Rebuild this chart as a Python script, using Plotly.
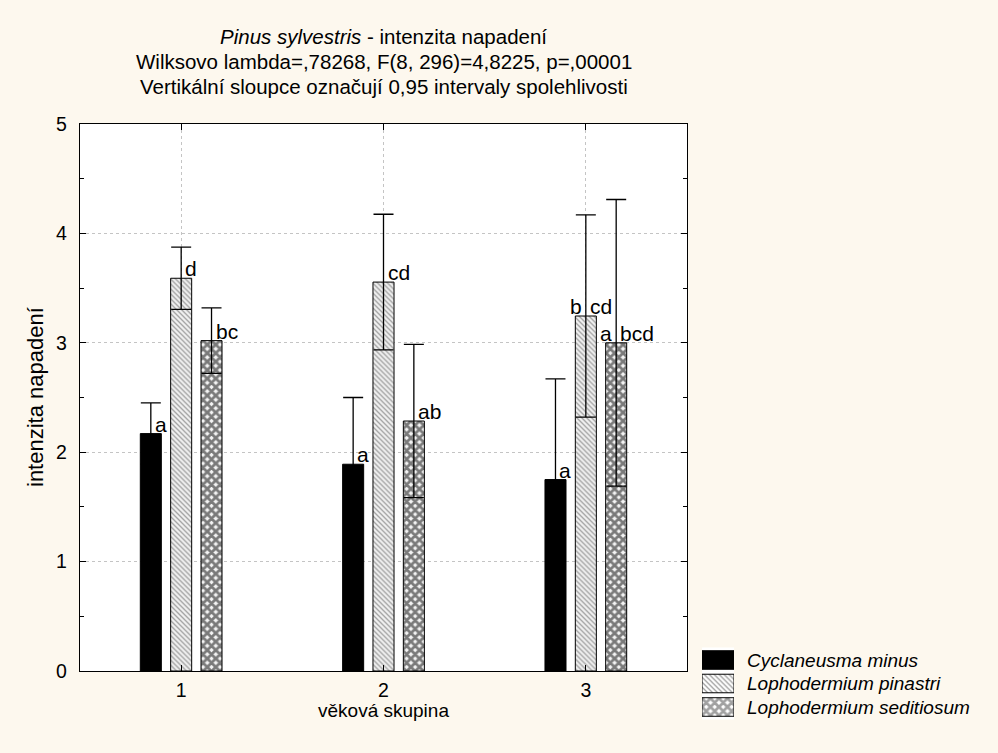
import plotly.graph_objects as go

# ---------------- data ----------------
groups = [1, 2, 3]
tick_labels = ["1", "2", "3"]
series_names = ["Cyclaneusma minus", "Lophodermium pinastri", "Lophodermium seditiosum"]

cyclaneusma_mean = [2.17, 1.89, 1.75]
cyclaneusma_ci = [0.28, 0.61, 0.92]
pinastri_mean = [3.59, 3.555, 3.245]
pinastri_ci = [0.285, 0.62, 0.925]
seditiosum_mean = [3.02, 2.285, 3.00]
seditiosum_ci = [0.30, 0.70, 1.31]

# significance letters: (left of whisker, right of whisker)
cyclaneusma_letters = [("", "a"), ("", "a"), ("", "a")]
pinastri_letters = [("", "d"), ("", "cd"), ("b", "cd")]
seditiosum_letters = [("", "bc"), ("", "ab"), ("a", "bcd")]

y_ticks = [0, 1, 2, 3, 4, 5]

# ---------------- style ----------------
FONT = "Liberation Sans, Arial, sans-serif"
BG = "#fdf8ee"
W, H = 998, 753
PL, PR, PT, PB = 80, 687, 124, 671  # plot area in pixels

BARGAP = 0.55
BARGROUPGAP = 0.307
slot = (1 - BARGAP) / 3

PIN_PAT = dict(shape="\\", fgcolor="#555555", bgcolor="#f0f0f0", size=3.5, solidity=0.38)
SED_PAT = dict(shape="x", fgcolor="black", bgcolor="#f4f4f4", size=6, solidity=0.72)

styles = [
    dict(color="black", pattern=dict(shape="")),
    dict(color="white", pattern=PIN_PAT),
    dict(color="white", pattern=SED_PAT),
]

means = [cyclaneusma_mean, pinastri_mean, seditiosum_mean]
cis = [cyclaneusma_ci, pinastri_ci, seditiosum_ci]
letters = [cyclaneusma_letters, pinastri_letters, seditiosum_letters]

fig = go.Figure()
for i, name in enumerate(series_names):
    fig.add_trace(go.Bar(
        x=groups, y=means[i], name=name, showlegend=False,
        marker=dict(color=styles[i]["color"], pattern=styles[i]["pattern"],
                    line=dict(color="black", width=1)),
        error_y=dict(type="data", array=cis[i], visible=True, color="black",
                     thickness=1.3, width=10),
        xaxis="x", yaxis="y",
    ))

# legend swatches (drawn as bars on a small helper axis)
fig.add_trace(go.Bar(
    x=[1, 1, 1], y=series_names, orientation="h", showlegend=False,
    width=0.79,
    marker=dict(
        color=[s["color"] for s in styles],
        pattern=dict(
            shape=["", PIN_PAT["shape"], SED_PAT["shape"]],
            fgcolor=["black", PIN_PAT["fgcolor"], SED_PAT["fgcolor"]],
            bgcolor=["black", PIN_PAT["bgcolor"], SED_PAT["bgcolor"]],
            size=[4, PIN_PAT["size"], SED_PAT["size"]],
            solidity=[0.5, PIN_PAT["solidity"], SED_PAT["solidity"]],
        ),
        line=dict(color="black", width=1),
    ),
    xaxis="x2", yaxis="y2", hoverinfo="skip",
))

annotations = []
# significance letters
for i in range(3):
    off = (i - 1) * slot
    for j, g in enumerate(groups):
        left, right = letters[i][j]
        if right:
            annotations.append(dict(x=g + off, y=means[i][j], xref="x", yref="y",
                                    text=right, showarrow=False, xanchor="left", yanchor="bottom",
                                    xshift=2, yshift=-4, font=dict(size=21, color="black", family=FONT)))
        if left:
            annotations.append(dict(x=g + off, y=means[i][j], xref="x", yref="y",
                                    text=left, showarrow=False, xanchor="right", yanchor="bottom",
                                    xshift=-2, yshift=-4, font=dict(size=21, color="black", family=FONT)))

# legend texts
for name in series_names:
    annotations.append(dict(x=745 / W, y=name, xref="paper", yref="y2", text=f"<i>{name}</i>",
                            showarrow=False, xanchor="left", yanchor="middle",
                            font=dict(size=19, color="black", family=FONT)))

# titles
title_lines = [
    "<i>Pinus sylvestris</i> - intenzita napadení",
    "Wilksovo lambda=,78268, F(8, 296)=4,8225, p=,00001",
    "Vertikální sloupce označují 0,95 intervaly spolehlivosti",
]
for t, yy in zip(title_lines, [37, 61, 86]):
    annotations.append(dict(x=(PL + PR) / 2 / W, y=1 - yy / H, xref="paper", yref="paper", text=t,
                            showarrow=False, xanchor="center", yanchor="middle",
                            font=dict(size=20.5, color="black", family=FONT)))

# axis titles
annotations.append(dict(x=(PL + PR) / 2 / W, y=1 - 710 / H, xref="paper", yref="paper",
                        text="věková skupina", showarrow=False, xanchor="center", yanchor="middle",
                        font=dict(size=19, color="black", family=FONT)))
annotations.append(dict(x=35 / W, y=1 - 397 / H, xref="paper", yref="paper", textangle=-90,
                        text="intenzita napadení", showarrow=False, xanchor="center", yanchor="middle",
                        font=dict(size=22, color="black", family=FONT)))

axis_common = dict(showline=True, linecolor="black", linewidth=1.3, mirror="allticks",
                   ticks="inside", ticklen=6, tickcolor="black", tickwidth=1,
                   showgrid=True, gridcolor="#c4c4c4", griddash="dot", gridwidth=1,
                   zeroline=False, tickfont=dict(size=19.5, color="black", family=FONT))

fig.update_layout(
    width=W, height=H,
    margin=dict(l=0, r=0, t=0, b=0, pad=0, autoexpand=False),
    paper_bgcolor=BG, plot_bgcolor="white",
    barmode="group", bargap=BARGAP, bargroupgap=BARGROUPGAP,
    font=dict(family=FONT, color="black"),
    xaxis=dict(domain=[PL / W, PR / W], range=[0.5, 3.5], tickvals=groups, ticktext=tick_labels,
               ticklabelstandoff=1, automargin=False, **axis_common),
    yaxis=dict(domain=[1 - PB / H, 1 - PT / H], range=[0, 5], tickvals=y_ticks,
               ticklabelstandoff=8, automargin=False,
               minor=dict(dtick=0.5, ticks="inside", ticklen=4, tickcolor="black", showgrid=False),
               **axis_common),
    xaxis2=dict(domain=[702 / W, 734 / W], range=[0, 1], visible=False, fixedrange=True,
                automargin=False),
    yaxis2=dict(domain=[33.5 / H, 105.5 / H], visible=False, autorange="reversed",
                categoryorder="array", categoryarray=series_names, fixedrange=True,
                automargin=False),
    annotations=annotations,
)

fig.write_html("out.html")
